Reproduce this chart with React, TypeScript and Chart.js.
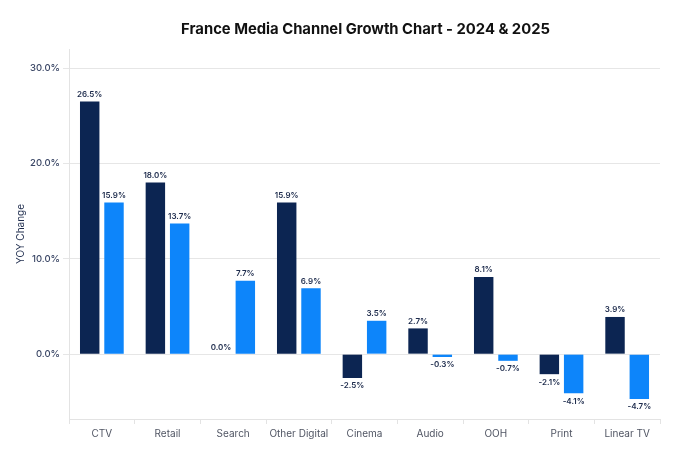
import React, { useEffect, useRef } from "react";
import { Chart, registerables } from "chart.js";

Chart.register(...registerables);

const TITLE = "France Media Channel Growth Chart - 2024 & 2025";
const categories = ["CTV", "Retail", "Search", "Other Digital", "Cinema", "Audio", "OOH", "Print", "Linear TV"];
const series2024 = [26.5, 18.0, 0.0, 15.9, -2.5, 2.7, 8.1, -2.1, 3.9];
const series2025 = [15.9, 13.7, 7.7, 6.9, 3.5, -0.3, -0.7, -4.1, -4.7];
const yTicks = [0, 10, 20, 30];

const DARK = "#0c2552";
const BLUE = "#0d85fa";

const titlePlugin = {
  id: "customTitle",
  afterDraw(chart: any) {
    const { ctx, chartArea } = chart;
    ctx.save();
    ctx.font = "700 14.8px Inter, 'Open Sans', sans-serif";
    ctx.fillStyle = "#111";
    ctx.textAlign = "center";
    ctx.textBaseline = "middle";
    ctx.fillText(TITLE, (chartArea.left + chartArea.right) / 2 + 1, 30);
    ctx.restore();
  },
};

const labelPlugin = {
  id: "barLabels",
  afterDatasetsDraw(chart: any) {
    const { ctx } = chart;
    ctx.save();
    ctx.font = "600 8px Inter, 'Open Sans', sans-serif";
    ctx.fillStyle = "#1d2b4c";
    ctx.textAlign = "center";
    ctx.textBaseline = "middle";
    chart.data.datasets.forEach((ds: any, di: number) => {
      const meta = chart.getDatasetMeta(di);
      meta.data.forEach((bar: any, i: number) => {
        const v = ds.data[i] as number;
        const txt = v.toFixed(1) + "%";
        const y = v >= 0 ? bar.y - 7 : bar.y + 8;
        ctx.fillText(txt, bar.x, y);
      });
    });
    ctx.restore();
  },
};

export default function App() {
  const ref = useRef<HTMLCanvasElement>(null);
  useEffect(() => {
    document.body.style.margin = "0";
    const chart = new Chart(ref.current!, {
      type: "bar",
      data: {
        labels: categories,
        datasets: [
          { label: "2024", data: series2024, backgroundColor: DARK, categoryPercentage: 0.74, barPercentage: 0.8 },
          { label: "2025", data: series2025, backgroundColor: BLUE, categoryPercentage: 0.74, barPercentage: 0.8 },
        ],
      },
      options: {
        responsive: false,
        animation: false,
        layout: { padding: { top: 49, right: 40, left: 0, bottom: 6 } },
        plugins: {
          legend: { display: false },
          title: { display: false },
          tooltip: { enabled: false },
        },
        scales: {
          x: {
            grid: { drawOnChartArea: false, drawTicks: true, tickLength: 5, color: "#e3e3e3" },
            border: { color: "#e3e3e3" },
            ticks: {
              color: "#505563",
              font: { family: "Inter, 'Open Sans', sans-serif", size: 10 },
              padding: 4,
              maxRotation: 0,
              minRotation: 0,
              autoSkip: false,
            },
          },
          y: {
            min: -6.8,
            max: 32,
            afterBuildTicks(axis: any) {
              axis.ticks = yTicks.map((v) => ({ value: v }));
            },
            grid: { color: "#e6e6e6", tickLength: 6 },
            border: { color: "#e3e3e3" },
            ticks: {
              color: "#3b4766",
              font: { family: "Inter, 'Open Sans', sans-serif", size: 9.5, weight: "500" },
              padding: 3,
              callback: (v: any) => Number(v).toFixed(1) + "%",
            },
            title: {
              display: true,
              text: "YOY Change",
              color: "#1d2b4c",
              font: { family: "Inter, 'Open Sans', sans-serif", size: 10 },
              padding: { top: 15, bottom: 0 },
            },
          },
        },
      },
      plugins: [titlePlugin, labelPlugin],
    });
    return () => chart.destroy();
  }, []);
  return (
    <div style={{ width: 700, height: 450, background: "#fff" }}>
      <canvas ref={ref} width={700} height={450} style={{ display: "block" }} />
    </div>
  );
}
